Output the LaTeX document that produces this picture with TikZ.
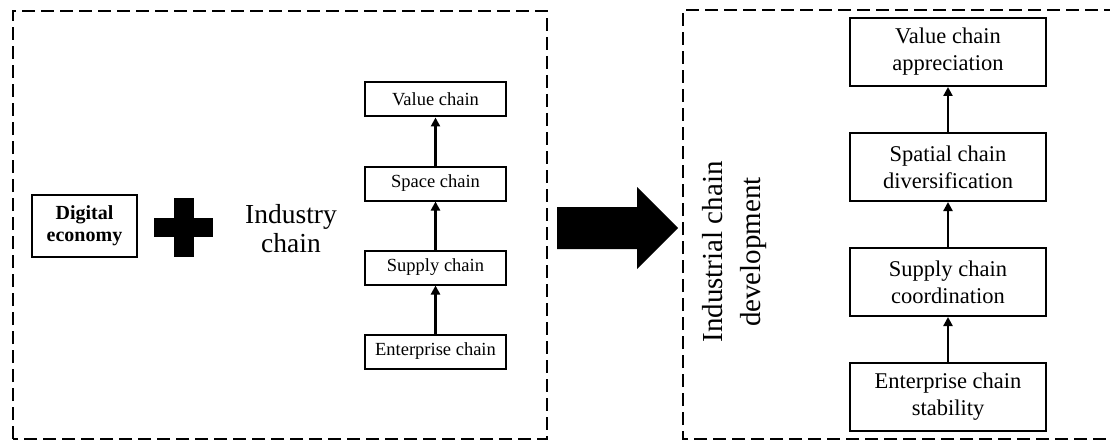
\documentclass[tikz,border=0pt]{standalone}
\usepackage{fontspec}
\setmainfont{Liberation Serif}
\usetikzlibrary{positioning,arrows.meta}

\begin{document}
\begin{tikzpicture}
[x=1pt, y=-1pt,
every node/.style = {inner sep=0pt, align=center},
frame/.style = {line width=1.5pt, dash pattern=on 13pt off 6pt},
chainbox/.style = {draw, line width=2pt, minimum width=141pt, minimum height=34pt,
	font=\fontsize{18.5}{21}\selectfont},
stagebox/.style = {draw, line width=2pt, minimum width=196pt, minimum height=68pt,
	font=\fontsize{22.5}{27}\selectfont},
up/.style = {-{Triangle[length=9pt,width=9pt]}, line width=2.6pt},
]
\useasboundingbox (0,0) rectangle (1110,441);

% dashed frames
\draw[frame] (13,439) -- (13,11) -- (547,11) -- (547,439) -- cycle;
\draw[frame] (1125,439) -- (683,439) -- (683,10) -- (1125,10);

% left part
\node[draw, line width=2pt, minimum width=105pt, minimum height=62pt,
	font=\fontsize{20}{22}\selectfont\bfseries] (digital) at (84.5,226) {Digital\\economy};
\fill (174,198) rectangle (194,257);
\fill (154,218) rectangle (213,237);
\node[font=\fontsize{27.5}{29}\selectfont] (industry) at (291,229) {Industry\\chain};

\node[chainbox] (ent1) at (435.5,351.5) {Enterprise chain};
\node[chainbox, above=48pt of ent1] (sup1) {Supply chain};
\node[chainbox, above=48pt of sup1] (spa1) {Space chain};
\node[chainbox, above=48pt of spa1] (val1) {Value chain};
\draw[up] (ent1) -- (sup1);
\draw[up] (sup1) -- (spa1);
\draw[up] (spa1) -- (val1);

% big arrow
\fill (557,207) -- (637,207) -- (637,187) -- (678,228) -- (637,269) -- (637,249)
	-- (557,249) -- cycle;

% right part
\node[rotate=90, font=\fontsize{29}{38}\selectfont] (develop) at (735,252)
	{Industrial chain\\development};

\node[stagebox] (ent2) at (948,397) {Enterprise chain\\stability};
\node[stagebox, above=45pt of ent2] (sup2) {Supply chain\\coordination};
\node[stagebox, above=45pt of sup2] (spa2) {Spatial chain\\diversification};
\node[stagebox, above=45pt of spa2] (val2) {Value chain\\appreciation};
\draw[up] (ent2) -- (sup2);
\draw[up] (sup2) -- (spa2);
\draw[up] (spa2) -- (val2);

\end{tikzpicture}
\end{document}
